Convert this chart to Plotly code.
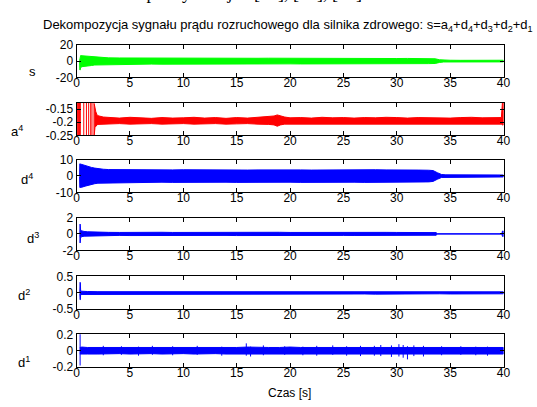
import plotly.graph_objects as go

W, H = 537, 407

# ---- shared time grid (seconds) for the steady part of the records ----
T_MID = [3, 4, 5, 6, 7, 8, 9, 10, 11, 12, 13, 14, 15, 16, 17, 18, 19, 20, 21, 22,
         23, 24, 25, 26, 27, 28, 29, 30, 31, 32, 33]

# ---- s: measured starting current (envelope of the dense trace) ----
s_t = [0.28, 0.30, 0.33, 0.38, 0.5, 0.8, 1.1, 1.4, 1.7, 2.0, 2.4] + T_MID + \
      [33.6, 34.0, 34.4, 35, 36, 37, 38, 39, 40]
s_hi = [0.5, 4.5, 6.0, 6.8, 6.5, 6.2, 6.0, 5.8, 5.0, 4.4, 4.0,
        3.9, 3.8, 3.7, 3.7, 3.6, 3.7, 3.6, 3.5, 3.6, 3.5,
        3.5, 3.4, 3.5, 3.4, 3.4, 3.5, 3.4, 3.3, 3.4, 3.3,
        3.3, 3.4, 3.3, 3.2, 3.3, 3.2, 3.2, 3.1, 3.2, 3.1, 3.0,
        2.8, 1.6, 1.0, 1.0, 0.9, 1.0, 0.9, 0.9, 1.0]
s_lo = [-0.5, -10.5, -11.0, -8.0, -6.8, -6.2, -5.8, -5.4, -4.8, -4.4, -4.1,
        -4.0, -3.9, -3.8, -3.8, -3.7, -3.8, -3.7, -3.6, -3.7, -3.6,
        -3.6, -3.5, -3.6, -3.5, -3.5, -3.6, -3.5, -3.4, -3.5, -3.4,
        -3.4, -3.5, -3.4, -3.3, -3.4, -3.3, -3.3, -3.2, -3.3, -3.2, -3.1,
        -2.9, -1.7, -1.1, -1.0, -0.9, -1.0, -0.9, -0.9, -1.0]

# ---- a4: approximation, level 4 ----
a4_t = [1.65, 1.72, 1.8, 1.9, 2.0, 2.5, 3, 4, 5, 6, 7, 8, 9, 10, 11, 12, 13, 14, 15, 16, 17, 18,
        18.5, 18.8, 19.1, 19.5, 20, 21, 22, 23, 24, 25, 26, 27, 28, 29, 30, 31, 32, 33, 34,
        35, 36, 37, 38, 39, 39.8, 39.9, 40]
a4_hi = [-0.13, -0.155, -0.16, -0.17, -0.175, -0.18, -0.182, -0.184, -0.181, -0.183, -0.185,
         -0.182, -0.184, -0.183, -0.181, -0.184, -0.182, -0.185, -0.182, -0.184, -0.181, -0.18,
         -0.176, -0.172, -0.176, -0.18, -0.183, -0.182, -0.184, -0.181, -0.183, -0.182, -0.184,
         -0.182, -0.183, -0.181, -0.182, -0.184, -0.182, -0.183, -0.182,
         -0.184, -0.182, -0.181, -0.183, -0.182, -0.182, -0.125, -0.125]
a4_lo = [-0.25, -0.22, -0.215, -0.21, -0.208, -0.207, -0.206, -0.205, -0.207, -0.206, -0.205,
         -0.207, -0.206, -0.205, -0.207, -0.206, -0.205, -0.207, -0.206, -0.205, -0.207, -0.208,
         -0.21, -0.215, -0.21, -0.207, -0.206, -0.205, -0.207, -0.206, -0.205, -0.207, -0.206,
         -0.205, -0.207, -0.206, -0.205, -0.206, -0.207, -0.205, -0.206,
         -0.207, -0.206, -0.205, -0.206, -0.207, -0.207, -0.21, -0.21]
# fast oscillation at switch-on (strokes between extremes)
a4_st_t = [0.03, 0.10, 0.16, 0.22, 0.28, 0.35, 0.67, 0.92, 1.13, 1.32, 1.44, 1.63]
a4_st_hi = [-0.155, -0.10, -0.10, -0.10, -0.10, -0.10, -0.10, -0.10, -0.10, -0.10, -0.10, -0.10]
a4_st_lo = [-0.185, -0.30, -0.30, -0.30, -0.30, -0.30, -0.30, -0.30, -0.30, -0.30, -0.30, -0.30]

# ---- d4 ----
d4_t = [0.28, 0.30, 0.34, 0.5, 0.8, 1.1, 1.4, 1.7, 2.0, 2.5] + T_MID + \
       [33.4, 33.8, 34.2, 34.6, 35, 36, 37, 38, 39, 40]
d4_hi = [0.3, 7.4, 7.3, 7.0, 6.3, 5.7, 5.2, 4.8, 4.4, 4.1,
         3.9, 3.8, 3.7, 3.8, 3.7, 3.6, 3.7, 3.8, 3.7, 3.6,
         3.7, 3.8, 3.7, 3.6, 3.7, 3.8, 3.7, 3.8, 3.7, 3.6,
         3.7, 3.8, 3.7, 3.8, 3.7, 3.8, 3.7, 3.8, 3.7, 3.6, 3.5,
         3.3, 2.0, 0.9, 0.7, 0.7, 0.6, 0.7, 0.6, 0.7, 0.6]
d4_lo = [-0.3, -7.0, -7.0, -6.8, -6.2, -5.6, -5.1, -4.7, -4.4, -4.2,
         -4.0, -3.9, -3.9, -3.8, -3.9, -3.8, -3.9, -3.8, -3.9, -3.8,
         -3.9, -3.8, -3.9, -3.8, -3.9, -3.8, -3.9, -3.8, -3.9, -3.8,
         -3.9, -3.8, -3.9, -3.8, -3.9, -3.8, -3.9, -3.8, -3.8, -3.7, -3.6,
         -3.3, -2.0, -0.9, -0.7, -0.7, -0.6, -0.7, -0.6, -0.7, -0.6]

# ---- d3 ----
d3_t = [0.30, 0.33, 0.36, 0.40, 0.5, 0.7, 1.0, 1.5, 2.0] + T_MID + \
       [33.7, 33.8, 34, 35, 36, 37, 38, 39, 39.85, 39.9, 40]
d3_hi = [0.05, 1.2, 0.6, 0.4, 0.35, 0.3, 0.26, 0.22, 0.2,
         0.19, 0.18, 0.2, 0.18, 0.19, 0.2, 0.18, 0.19, 0.18, 0.2,
         0.19, 0.18, 0.2, 0.19, 0.18, 0.19, 0.2, 0.18, 0.19, 0.18,
         0.2, 0.19, 0.18, 0.19, 0.2, 0.18, 0.19, 0.18, 0.19, 0.18, 0.17,
         0.16, 0.02, 0.02, 0.02, 0.02, 0.02, 0.02, 0.02, 0.02, 0.35, 0.35]
d3_lo = [-0.05, -1.1, -0.6, -0.38, -0.33, -0.28, -0.24, -0.21, -0.2,
         -0.19, -0.18, -0.2, -0.18, -0.19, -0.2, -0.18, -0.19, -0.18, -0.2,
         -0.19, -0.18, -0.2, -0.19, -0.18, -0.19, -0.2, -0.18, -0.19, -0.18,
         -0.2, -0.19, -0.18, -0.19, -0.2, -0.18, -0.19, -0.18, -0.19, -0.18, -0.17,
         -0.16, -0.02, -0.02, -0.02, -0.02, -0.02, -0.02, -0.02, -0.02, -0.3, -0.3]

# ---- d2 ----
d2_t = [0.30, 0.33, 0.35, 0.38, 0.5, 1, 2] + T_MID + [34, 35, 36, 37, 38, 39, 40]
d2_hi = [0.02, 0.32, 0.3, 0.05, 0.045, 0.04, 0.035,
         0.035, 0.03, 0.035, 0.03, 0.035, 0.035, 0.03, 0.035, 0.03, 0.035,
         0.03, 0.035, 0.035, 0.03, 0.035, 0.03, 0.035, 0.035, 0.03, 0.035,
         0.03, 0.035, 0.03, 0.035, 0.035, 0.04, 0.035, 0.03, 0.035, 0.03, 0.035,
         0.03, 0.035, 0.03, 0.035, 0.03, 0.035, 0.03]
d2_lo = [-0.02, -0.21, -0.21, -0.05, -0.045, -0.04, -0.035,
         -0.035, -0.03, -0.035, -0.03, -0.035, -0.035, -0.03, -0.035, -0.03, -0.035,
         -0.03, -0.035, -0.035, -0.03, -0.035, -0.03, -0.035, -0.035, -0.03, -0.035,
         -0.03, -0.035, -0.03, -0.035, -0.035, -0.04, -0.035, -0.03, -0.035, -0.03, -0.035,
         -0.03, -0.035, -0.03, -0.035, -0.03, -0.035, -0.03]

# ---- d1 ----
d1_t = [0.30, 0.5, 1, 2] + T_MID + [34, 35, 36, 37, 38, 39, 40]
d1_hi = [0.04, 0.045, 0.04, 0.04,
         0.04, 0.035, 0.04, 0.04, 0.035, 0.04, 0.04, 0.035, 0.04, 0.04,
         0.035, 0.04, 0.04, 0.045, 0.04, 0.04, 0.04, 0.045, 0.04, 0.04,
         0.045, 0.04, 0.04, 0.045, 0.045, 0.04, 0.045, 0.04, 0.04, 0.04, 0.04,
         0.04, 0.04, 0.04, 0.04, 0.04, 0.04, 0.04]
d1_lo = [-0.04, -0.045, -0.04, -0.04,
         -0.04, -0.035, -0.04, -0.04, -0.035, -0.04, -0.04, -0.035, -0.04, -0.04,
         -0.035, -0.04, -0.04, -0.045, -0.04, -0.04, -0.04, -0.045, -0.04, -0.04,
         -0.045, -0.04, -0.04, -0.045, -0.045, -0.04, -0.045, -0.04, -0.04, -0.04, -0.04,
         -0.04, -0.04, -0.04, -0.04, -0.04, -0.04, -0.04]
d1_sp_t = [0.33, 2.5, 4.2, 5.8, 7.1, 9.0, 11.3, 13.6, 15.9, 16.3, 17.5, 19.5, 21.2, 22.5,
           24.0, 25.3, 26.6, 27.9, 28.5, 29.5, 30.2, 30.6, 31.0, 31.6, 32.5, 34.2, 36.0,
           37.4, 38.5]
d1_sp_hi = [0.25, 0.06, 0.055, 0.05, 0.06, 0.055, 0.06, 0.05, 0.09, 0.05, 0.065, 0.055, 0.05,
            0.06, 0.065, 0.055, 0.06, 0.06, 0.07, 0.065, 0.08, 0.07, 0.055, 0.065, 0.06,
            0.055, 0.055, 0.05, 0.05]
d1_sp_lo = [-0.18, -0.055, -0.05, -0.06, -0.05, -0.055, -0.05, -0.06, -0.06, -0.07, -0.055,
            -0.05, -0.055, -0.06, -0.05, -0.06, -0.065, -0.06, -0.065, -0.075, -0.07, -0.085,
            -0.105, -0.065, -0.07, -0.055, -0.05, -0.055, -0.06]

# ---- axes: tick values / labels per panel ----
x_ticks = [0, 5, 10, 15, 20, 25, 30, 35, 40]
y_ranges = [[-20, 20], [-0.25, -0.125], [-10, 10], [-2, 2], [-0.5, 0.5], [-0.2, 0.2]]
y_tickvals = [[-20, 0, 20], [-0.25, -0.2, -0.15], [-10, 0, 10], [-2, 0, 2],
              [-0.5, 0, 0.5], [-0.2, 0, 0.2]]
y_ticktext = [["-20", "0", "20"], ["-0.25", "-0.2", "-0.15"], ["-10", "0", "10"],
              ["-2", "0", "2"], ["-0.5", "0", "0.5"], ["-0.2", "0", "0.2"]]
panel_names = ["s", "a<sup>4</sup>", "d<sup>4</sup>", "d<sup>3</sup>", "d<sup>2</sup>", "d<sup>1</sup>"]

GREEN, RED, BLUE = "#00ff00", "#ff0000", "#0000ff"
FONT = "Liberation Sans, Arial, sans-serif"

# panel geometry in pixels
LEFT, RIGHT = 75, 510
TOPS = [39, 99, 158, 218, 279, 339]
PH = 34
# ylabel positions (pixel x, pixel y of the label box centre)
LBL_POS = [(30, 67), (14, 128), (24, 178), (31, 239), (21, 298), (21, 368)]


def py(px):
    return 1 - px / H


def px_x(px):
    return px / W


fig = go.Figure()


def band(t, hi, lo, color, k):
    assert len(t) == len(hi) == len(lo)
    fig.add_trace(go.Scatter(
        x=list(t) + list(t)[::-1], y=list(hi) + list(lo)[::-1],
        mode="lines", fill="toself", fillcolor=color,
        line=dict(color=color, width=1),
        xaxis="x" if k == 1 else f"x{k}", yaxis="y" if k == 1 else f"y{k}",
        showlegend=False, hoverinfo="skip"))


def strokes(t, hi, lo, color, k, width=1):
    assert len(t) == len(hi) == len(lo)
    xs, ys = [], []
    for tt, h, l in zip(t, hi, lo):
        xs += [tt, tt, None]
        ys += [l, h, None]
    fig.add_trace(go.Scatter(
        x=xs, y=ys, mode="lines", line=dict(color=color, width=width),
        xaxis="x" if k == 1 else f"x{k}", yaxis="y" if k == 1 else f"y{k}",
        showlegend=False, hoverinfo="skip", connectgaps=False))


band(s_t, s_hi, s_lo, GREEN, 1)
band(a4_t, a4_hi, a4_lo, RED, 2)
strokes(a4_st_t, a4_st_hi, a4_st_lo, RED, 2)
band(d4_t, d4_hi, d4_lo, BLUE, 3)
band(d3_t, d3_hi, d3_lo, BLUE, 4)
band(d2_t, d2_hi, d2_lo, BLUE, 5)
band(d1_t, d1_hi, d1_lo, BLUE, 6)
strokes(d1_sp_t, d1_sp_hi, d1_sp_lo, BLUE, 6)

layout = dict(
    width=W, height=H, margin=dict(l=0, r=0, t=0, b=0),
    paper_bgcolor="white", plot_bgcolor="white",
    font=dict(family=FONT, size=12, color="black"),
    showlegend=False,
)
axis_common = dict(showline=True, linecolor="black", linewidth=1, mirror="ticks",
                   ticks="inside", ticklen=4, tickwidth=1, tickcolor="black",
                   showgrid=False, zeroline=False,
                   tickfont=dict(family=FONT, size=12, color="black"))
annotations = []
for i in range(6):
    k = i + 1
    xs = "xaxis" if k == 1 else f"xaxis{k}"
    ys = "yaxis" if k == 1 else f"yaxis{k}"
    top = TOPS[i]
    layout[xs] = dict(axis_common, domain=[px_x(LEFT), px_x(RIGHT)], range=[0, 40],
                      tickvals=x_ticks, ticklabelstandoff=-6,
                      anchor="y" if k == 1 else f"y{k}")
    layout[ys] = dict(axis_common, domain=[py(top + PH), py(top)], range=y_ranges[i],
                      tickvals=y_tickvals[i], ticktext=y_ticktext[i],
                      anchor="x" if k == 1 else f"x{k}")
    lx, ly = LBL_POS[i]
    annotations.append(dict(text=panel_names[i], x=px_x(lx), y=py(ly), xref="paper",
                            yref="paper", xanchor="center", yanchor="middle",
                            showarrow=False, font=dict(family=FONT, size=13)))

annotations.append(dict(
    text="Dekompozycja sygnału prądu rozruchowego dla silnika zdrowego: "
         "s=a<sub>4</sub>+d<sub>4</sub>+d<sub>3</sub>+d<sub>2</sub>+d<sub>1</sub>",
    x=px_x(290), y=py(19), xref="paper", yref="paper", xanchor="center", yanchor="middle",
    showarrow=False, font=dict(family=FONT, size=13)))
annotations.append(dict(text="Czas [s]", x=px_x(292), y=py(400), xref="paper", yref="paper",
                        xanchor="center", yanchor="middle", showarrow=False,
                        font=dict(family=FONT, size=12)))
# caption line above the figure, only its descenders reach into the page
annotations.append(dict(text="Obliczenia po wyniku jak [12], [13], [14]",
                        x=px_x(60), y=py(0), xref="paper", yref="paper",
                        xanchor="left", yanchor="bottom", yshift=2, showarrow=False,
                        font=dict(family="Liberation Serif, Times New Roman, serif", size=18)))
layout["annotations"] = annotations

fig.update_layout(**layout)
fig.write_html("out.html")
